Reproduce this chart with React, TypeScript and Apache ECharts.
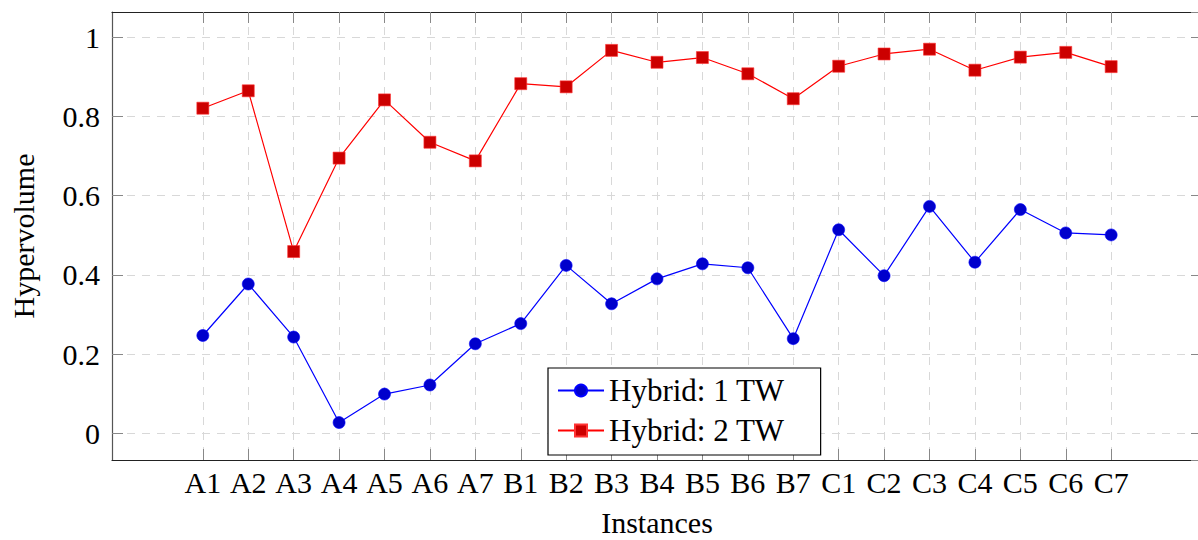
import React, { useEffect, useRef } from "react";
import * as echarts from "echarts";

const instances = [
  "A1", "A2", "A3", "A4", "A5", "A6", "A7",
  "B1", "B2", "B3", "B4", "B5", "B6", "B7",
  "C1", "C2", "C3", "C4", "C5", "C6", "C7",
];
const padLeft = ["pad-l2", "pad-l1"];
const padRight = ["pad-r1", "pad-r2"];

const hybrid1TW = [
  0.247, 0.377, 0.243, 0.027, 0.099, 0.122, 0.226,
  0.277, 0.424, 0.327, 0.39, 0.428, 0.418, 0.239,
  0.514, 0.398, 0.573, 0.432, 0.565, 0.506, 0.501,
];
const hybrid2TW = [
  0.821, 0.865, 0.459, 0.695, 0.842, 0.735, 0.688,
  0.883, 0.875, 0.967, 0.937, 0.949, 0.908, 0.845,
  0.927, 0.958, 0.97, 0.917, 0.95, 0.962, 0.926,
];

const yMin = -0.0675;
const yMax = 1.064;

const FONT = "'Liberation Serif', 'DejaVu Serif', serif";

export default function App() {
  const ref = useRef<HTMLDivElement>(null);

  useEffect(() => {
    document.body.style.margin = "0";
    document.body.style.overflow = "hidden";
    const chart = echarts.init(ref.current!, undefined, { renderer: "svg" });
    const categories = [...padLeft, ...instances, ...padRight];
    const isReal = (v: string) => !v.startsWith("pad");
    const tickFn = (_i: number, v: string) => isReal(v);

    const xBase = {
      type: "category" as const,
      data: categories,
      boundaryGap: false,
      axisLine: { show: true, onZero: false, lineStyle: { color: "#222", width: 1.2 } },
      axisTick: { show: true, inside: true, length: 11, interval: tickFn, lineStyle: { color: "#888", width: 1 } },
    };

    chart.setOption({
      animation: false,
      textStyle: { fontFamily: FONT },
      grid: {
        left: 112,
        top: 12,
        right: -4,
        bottom: 80,
        containLabel: false,
        outerBoundsMode: "none",
      },
      legend: {
        left: 548,
        top: 368,
        orient: "vertical",
        backgroundColor: "#fff",
        borderColor: "#000",
        borderWidth: 1.2,
        borderRadius: 0,
        padding: [7, 36, 9, 9],
        itemGap: 9,
        itemWidth: 46,
        itemHeight: 15,
        textStyle: { fontFamily: FONT, fontSize: 31, color: "#000" },
        data: ["Hybrid: 1 TW", "Hybrid: 2 TW"],
      },
      xAxis: [
        {
          ...xBase,
          position: "bottom",
          name: "Instances",
          nameLocation: "middle",
          nameGap: 47,
          nameTextStyle: { fontFamily: FONT, fontSize: 30, lineHeight: 30, color: "#000" },
          axisLabel: {
            show: true,
            interval: tickFn,
            margin: 7,
            fontFamily: FONT,
            fontSize: 30,
            color: "#000",
            formatter: (v: string) => (isReal(v) ? v : ""),
          },
          splitLine: {
            show: true,
            interval: tickFn,
            lineStyle: { color: "#d8d8d8", type: [8, 7], width: 1 },
          },
        },
        {
          ...xBase,
          position: "top",
          axisLabel: { show: false },
          splitLine: { show: false },
        },
      ],
      yAxis: [
        {
          type: "value",
          min: yMin,
          max: yMax,
          splitNumber: 5,
          position: "left",
          name: "Hypervolume",
          nameLocation: "middle",
          nameGap: 74,
          nameTextStyle: { fontFamily: FONT, fontSize: 30, lineHeight: 30, color: "#000" },
          axisLine: { show: true, onZero: false, lineStyle: { color: "#555", width: 1.2 } },
          axisTick: { show: true, inside: true, length: 11, lineStyle: { color: "#888", width: 1 } },
          axisLabel: {
            margin: 12,
            fontFamily: FONT,
            fontSize: 30,
            color: "#000",
            showMinLabel: false,
            showMaxLabel: false,
            formatter: (v: number) => `${Math.round(v * 10) / 10}`,
          },
          splitLine: {
            show: true,
            lineStyle: { color: "#d8d8d8", type: [8, 7], width: 1 },
          },
        },
        {
          type: "value",
          min: yMin,
          max: yMax,
          splitNumber: 5,
          position: "right",
          axisLine: { show: true, onZero: false, lineStyle: { color: "#333", width: 1.2 } },
          axisTick: { show: true, inside: true, length: 11, lineStyle: { color: "#888", width: 1 } },
          axisLabel: { show: false },
          splitLine: { show: false },
        },
      ],
      series: [
        {
          name: "Hybrid: 1 TW",
          type: "line",
          xAxisIndex: 0,
          yAxisIndex: 0,
          data: instances.map((c, i) => [c, hybrid1TW[i]]),
          symbol: "circle",
          symbolSize: 12,
          lineStyle: { color: "#0000ff", width: 1.2 },
          itemStyle: { color: "#0000cc", borderColor: "#0000ff", borderWidth: 0.6 },
          z: 3,
        },
        {
          name: "Hybrid: 2 TW",
          type: "line",
          xAxisIndex: 0,
          yAxisIndex: 0,
          data: instances.map((c, i) => [c, hybrid2TW[i]]),
          symbol: "rect",
          symbolSize: 12,
          lineStyle: { color: "#ff0000", width: 1.2 },
          itemStyle: { color: "#cc0000", borderColor: "#ff3333", borderWidth: 0.6 },
          z: 3,
        },
      ],
    });
    return () => chart.dispose();
  }, []);

  return <div ref={ref} style={{ width: 1198, height: 540 }} />;
}
